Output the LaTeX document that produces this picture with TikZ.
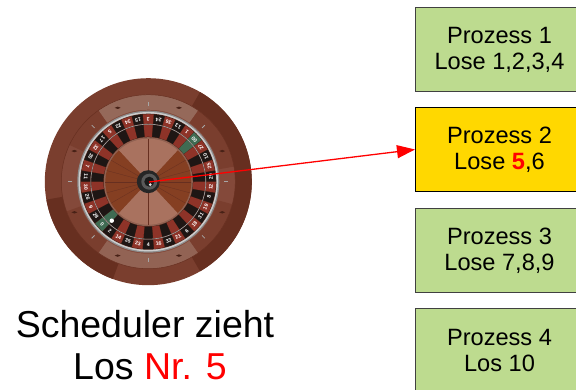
\documentclass[tikz,border=0pt]{standalone}
\usepackage{fontspec}
\setmainfont{Liberation Sans}
\usetikzlibrary{arrows.meta}
\definecolor{boxgreen}{HTML}{BDDB8F}
\definecolor{boxyellow}{HTML}{FFD800}
\definecolor{rimc}{HTML}{7A3E2E}
\definecolor{rimd}{HTML}{672F20}
\definecolor{bandc}{HTML}{84493A}
\definecolor{bandl}{HTML}{95695A}
\definecolor{woodd}{HTML}{853F22}
\definecolor{woodl}{HTML}{A9725F}
\definecolor{pocketr}{HTML}{8E3328}
\definecolor{pocketk}{HTML}{1E1614}
\definecolor{pocketg}{HTML}{3F6B52}
\newcommand{\annsec}[5]{\fill[#5] (#1:#3) arc[start angle=#1,end angle=#2,radius=#3] -- (#2:#4) arc[start angle=#2,end angle=#1,radius=#4] -- cycle;}
\tikzset{
  prozess/.style={draw=black!75,line width=1pt,fill=boxgreen,minimum width=168,minimum height=84,anchor=north west,inner sep=0pt,align=center,font=\fontsize{23.6}{25.8}\selectfont},
  aktiv/.style={prozess,fill=boxyellow,draw=black},
  caption/.style={align=center,inner sep=0pt,font=\fontsize{37.5}{42}\selectfont},
  zahl/.style={text=white,inner sep=0pt,font=\fontsize{5.2}{5.2}\selectfont\bfseries},
  zeiger/.style={draw=red,line width=1.3pt,-{Triangle[length=18,width=13]}},
}
\begin{document}
\begin{tikzpicture}[x=1pt,y=1pt]
\useasboundingbox (0,0) rectangle (576,390);
\fill[white] (0,0) rectangle (576,390);
% wheel
\begin{scope}[shift={(148.3,208.3)}]
  \fill[rimc] (0,0) circle[radius=103.5];
  \annsec{-60}{60}{87}{103.5}{rimd}
  \annsec{190}{250}{87}{103.5}{rimd}
  \fill[bandc] (0,0) circle[radius=87];
  \annsec{55}{125}{72}{87}{bandl}
  \annsec{235}{305}{72}{87}{bandl!80!bandc}
  \annsec{125}{155}{72}{87}{rimc}
  \annsec{10}{55}{72}{87}{rimc}
  \annsec{305}{345}{72}{87}{rimc}
  \annsec{200}{235}{72}{87}{rimc}
  \draw[rimd,line width=0.5pt] (0,0) circle[radius=87];
  \foreach \a in {22.5,67.5,...,360}{
    \fill[rimd!70!black] (\a:80) ++(-3,0) -- ++(3,1.2) -- ++(3,-1.2) -- ++(-3,-1.2) -- cycle;
  }
  \foreach \a in {0,45,...,315}{
    \draw[black!35,line width=0.8pt,rotate=\a] (76,0) -- (80,0);
  }
  % silver ring
  \fill[black!45] (0,0) circle[radius=71];
  \fill[black!20] (0,0) circle[radius=69.7];
  \fill[black!30!rimd] (0,0) circle[radius=68];
  % pockets and number track
  \foreach \n/\c [count=\i from 0] in {3/r,24/k,36/r,13/k,1/r,00/g,27/r,10/k,25/r,29/k,12/r,8/k,19/r,31/k,18/r,6/k,21/r,33/k,16/r,4/k,23/r,35/k,14/r,2/k,0/g,28/k,9/r,26/k,30/r,11/k,7/r,20/k,32/r,17/k,5/r,22/k,34/r,15/k}{
    \pgfmathsetmacro{\am}{90-9.4737*\i}
    \pgfmathsetmacro{\aa}{\am-4.5}
    \pgfmathsetmacro{\ab}{\am+4.5}
    \annsec{\aa}{\ab}{45}{57}{pocket\c}
    \annsec{\aa}{\ab}{58}{67.5}{pocket\c}
    \pgfmathsetmacro{\rot}{\am+90}
    \node[zahl,rotate=\rot] (n\i) at (\am:62.7) {\n};
  }
  \draw[black!35,line width=0.6pt] (0,0) circle[radius=57.5];
  % cone
  \fill[black!15!woodl] (0,0) circle[radius=44.5];
  \fill[woodd] (0,0) -- (-47:43) arc[start angle=-47,end angle=47,radius=43] -- cycle;
  \fill[woodd] (0,0) -- (133:43) arc[start angle=133,end angle=227,radius=43] -- cycle;
  \fill[woodl] (0,0) -- (47:43) arc[start angle=47,end angle=133,radius=43] -- cycle;
  \fill[woodl] (0,0) -- (227:43) arc[start angle=227,end angle=313,radius=43] -- cycle;
  \foreach \a in {-30,-15,0,15,30,150,165,180,195,210,90,270}{
    \draw[rimd,line width=0.3pt] (0,0) -- (\a:43);
  }
  % hub
  \fill[black!85] (0,0) circle[radius=11.5];
  \fill[black!65] (1,0) circle[radius=8];
  \fill[black!90] (1,0) circle[radius=5];
  \fill[black!10] (2,-3) circle[radius=1.5];
  % ball
  \fill[white] (-36.5,-39) circle[radius=2.2];
\end{scope}
\coordinate (mitte) at (149,208);
% boxes
\node[prozess] (p1) at (415,383) {Prozess 1\\Lose 1,2,3,4};
\node[aktiv] (p2) at (415,283) {Prozess 2\\Lose {\color{red}\bfseries 5},6};
\node[prozess] (p3) at (415,182) {Prozess 3\\Lose 7,8,9};
\node[prozess] (p4) at (415,82) {Prozess 4\\Los 10};
% caption
\node[caption] (cap) at (145,44.5) {Scheduler zieht\\\hspace*{10pt}Los {\color{red}Nr. 5}};
% arrow
\draw[zeiger] (mitte) -- (p2.west);
\end{tikzpicture}
\end{document}
